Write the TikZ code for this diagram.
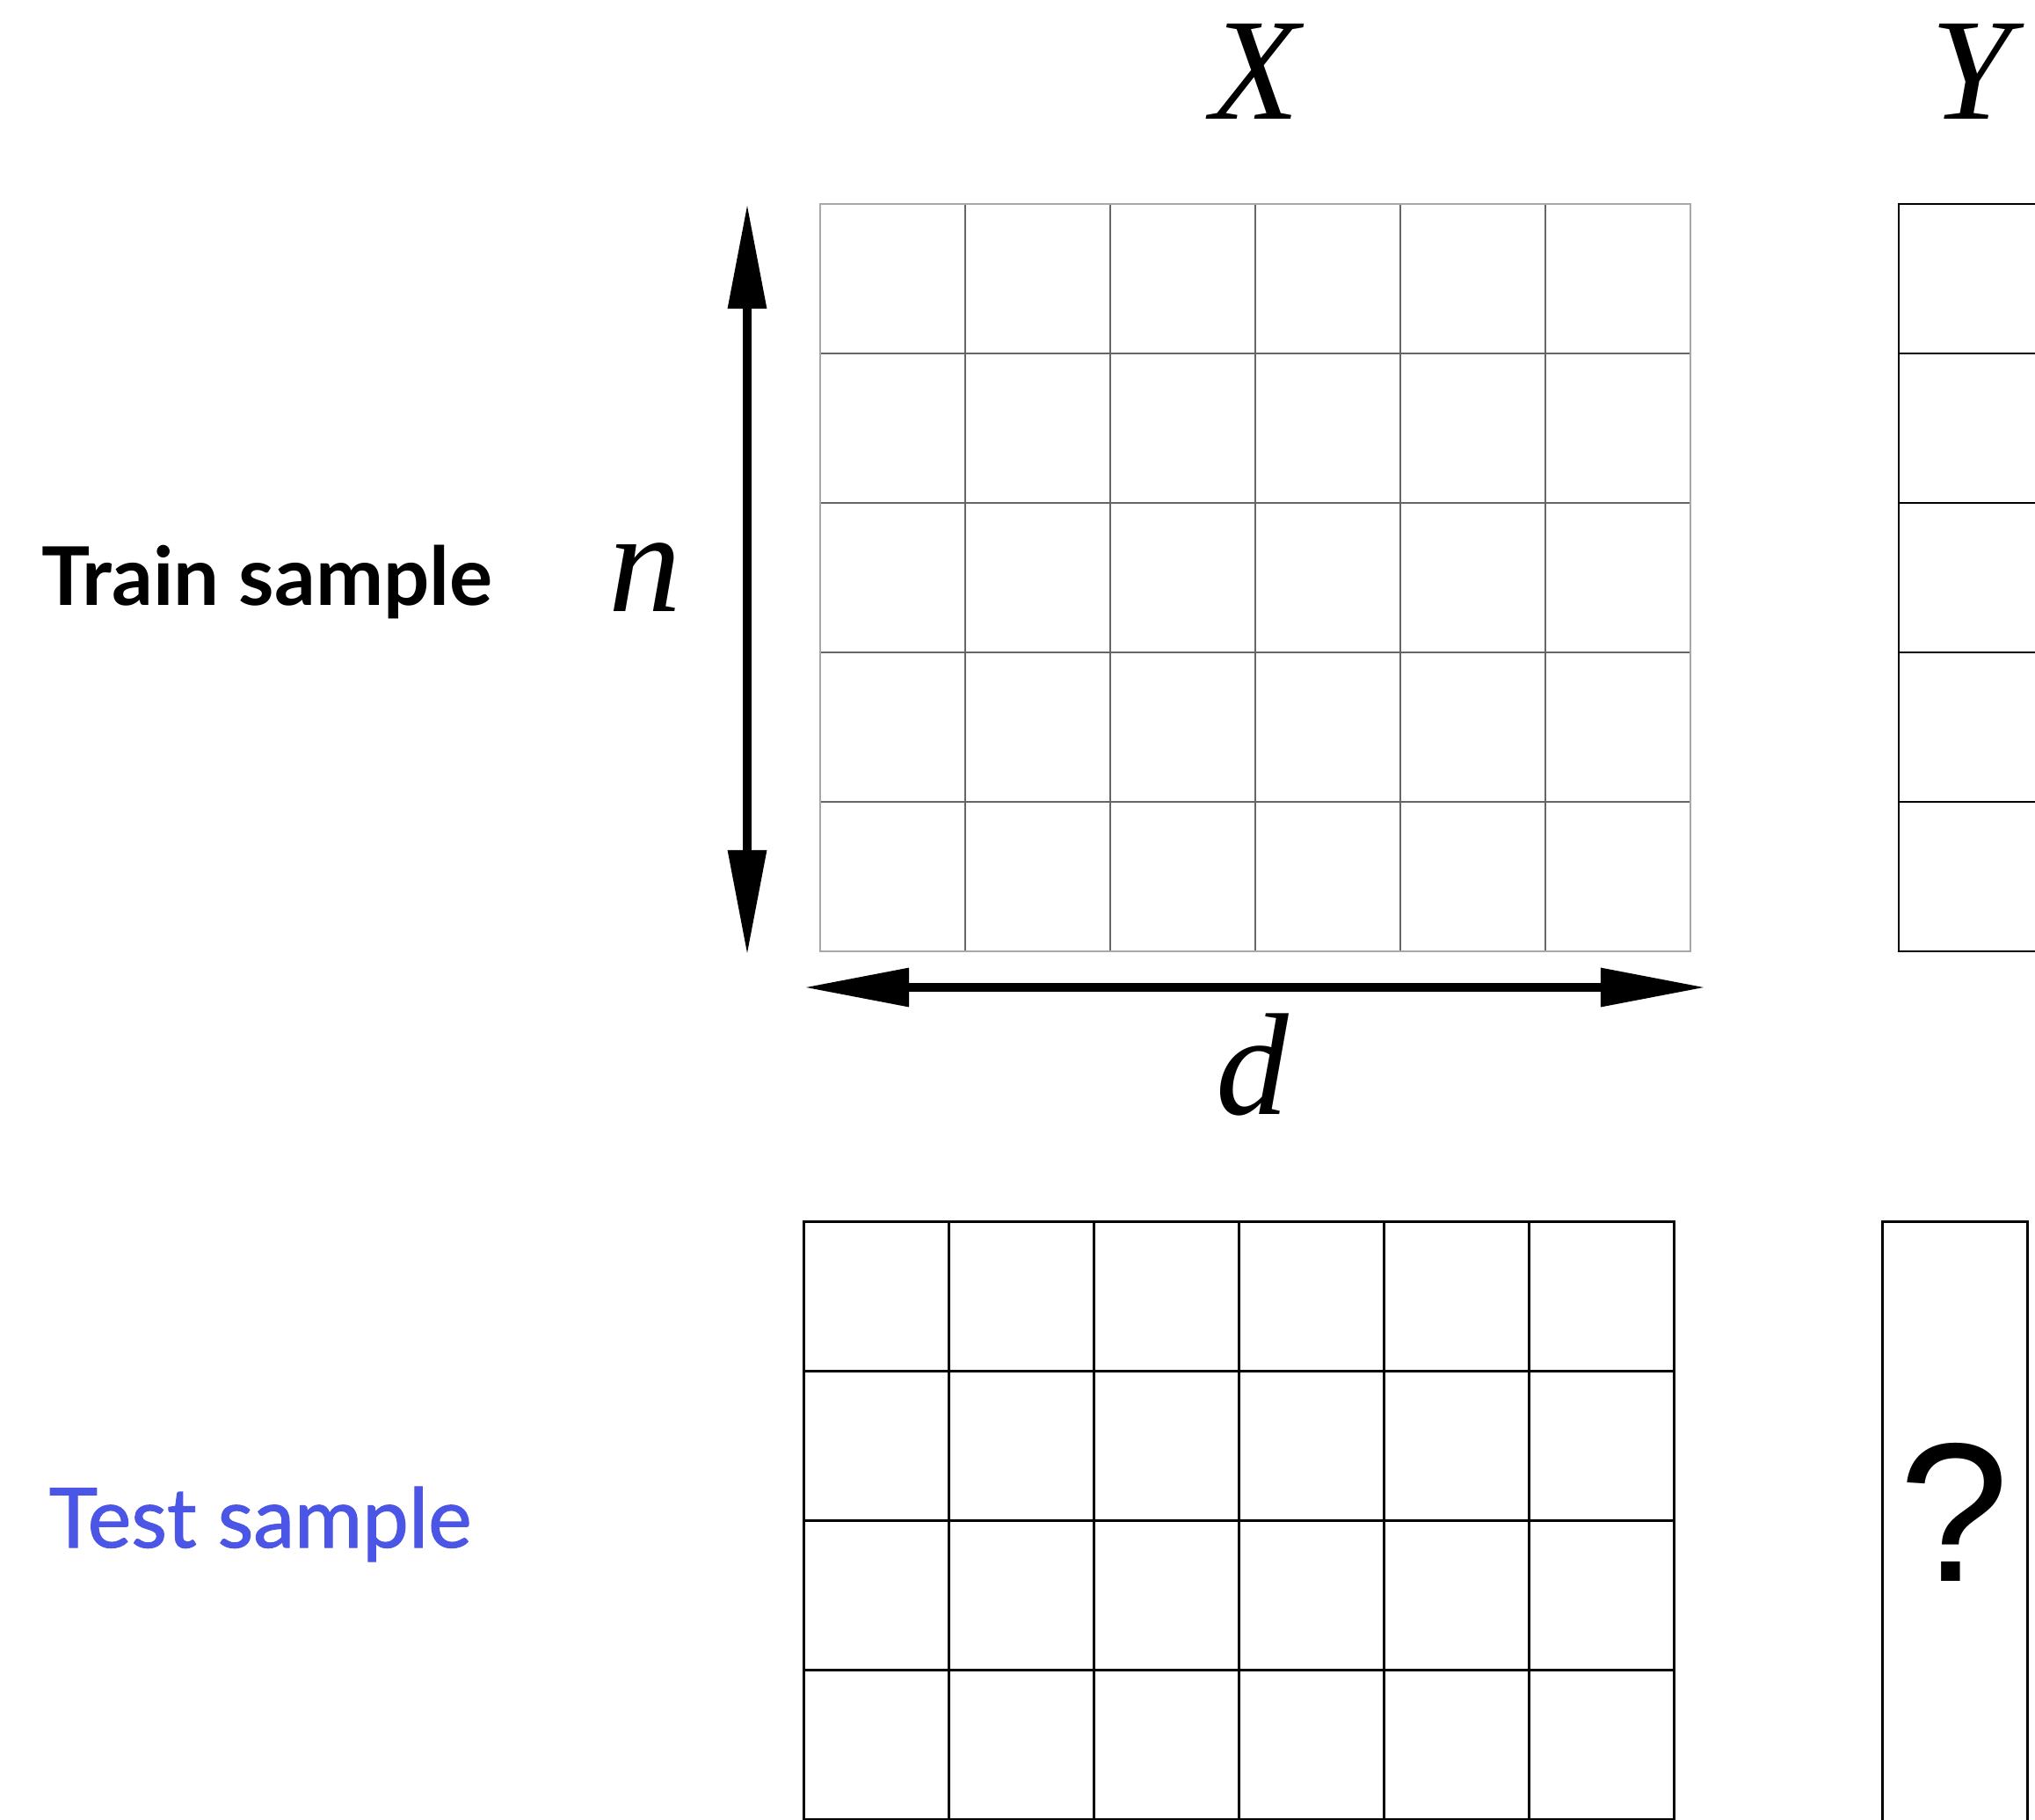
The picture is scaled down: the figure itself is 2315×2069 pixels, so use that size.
\documentclass[tikz,border=0pt]{standalone}
\usepackage{fontspec}
\setsansfont{Lato}
\newfontfamily\varfont{Liberation Serif}
\newfontfamily\qfont{Liberation Sans}
\newfontfamily\testfont{Lato}[FakeBold=1.2]
\usetikzlibrary{arrows.meta, positioning}
\definecolor{testblue}{HTML}{4B55E6}
\definecolor{gridedge}{HTML}{A8A8A8}
\definecolor{gridline}{HTML}{666666}

\begin{document}
\begin{tikzpicture}[
  x=0.01cm, y=-0.01cm,
  cellin/.style={line width=0.55pt, color=gridline},
  celledge/.style={line width=0.55pt, color=gridedge},
  ycell/.style={line width=0.55pt, color=black},
  testcell/.style={line width=0.85pt, color=black},
  dimarrow/.style={{Triangle[length=1.19cm, width=0.42cm]}-{Triangle[length=1.19cm, width=0.42cm]}, line width=2.7pt},
  varlabel/.style={font=\fontsize{47}{50}\selectfont\varfont\itshape, inner sep=0pt},
  rowlabel/.style={anchor=base west, inner sep=0pt}
]
\clip (0,0) rectangle (2315,2069);

% train sample: X grid
\foreach \i in {1,...,5} \draw[cellin] (933+\i*165,232) -- (933+\i*165,1082);
\foreach \j in {1,...,4} \draw[cellin] (933,232+\j*170) -- (1923,232+\j*170);
\draw[celledge] (933,232) rectangle (1923,1082);

% train sample: Y column
\draw[ycell] (2160,232) rectangle (2325,1082);
\foreach \j in {1,...,4} \draw[ycell] (2160,232+\j*170) -- (2325,232+\j*170);

% test sample: X grid
\foreach \i in {1,...,5} \draw[testcell] (914+\i*165,1389) -- (914+\i*165,2239);
\foreach \j in {1,...,4} \draw[testcell] (914,1389+\j*170) -- (1904,1389+\j*170);
\draw[testcell] (914,1389) rectangle (1904,2239);

% test sample: unknown Y
\draw[testcell] (2141,1389) rectangle (2306,2239);

% dimensions
\coordinate (ntop) at (850,232);
\coordinate (nbot) at (850,1086);
\coordinate (dleft) at (915,1123);
\coordinate (dright) at (1940,1123);
\draw[dimarrow] (nbot) -- (ntop);
\draw[dimarrow] (dleft) -- (dright);

\node[varlabel] (xlab) at (1428,81) {X};
\node[varlabel] (ylab) at (2242,81) {Y};
\node[varlabel] (nlab) at (734,657) {n};
\node[varlabel] (dlab) at (1425,1211) {d};

\node[rowlabel, font=\fontsize{26.2}{30}\selectfont\sffamily\bfseries] (train) at (47,688) {Train sample};
\node[rowlabel, font=\fontsize{26.7}{30}\selectfont\testfont, text=testblue] (test) at (55,1760) {Test sample};

\node[font=\fontsize{64}{70}\selectfont\qfont, inner sep=0pt] (unknown) at (2223,1720) {?};
\end{tikzpicture}
\end{document}
